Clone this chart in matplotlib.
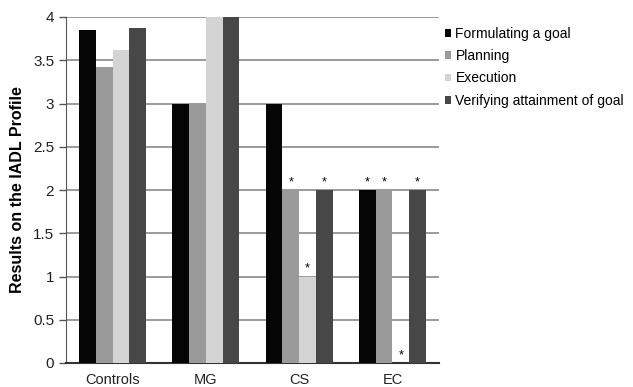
import numpy as np
import matplotlib
matplotlib.use("Agg")
import matplotlib.pyplot as plt

plt.rcParams['font.family'] = ['Liberation Sans', 'DejaVu Sans']

groups = ["Controls", "MG", "CS", "EC"]
series = ["Formulating a goal", "Planning", "Execution", "Verifying attainment of goal"]
formulating = [3.85, 3.0, 3.0, 2.0]
planning = [3.42, 3.0, 2.0, 2.0]
execution = [3.62, 4.0, 1.0, 0.0]
verifying = [3.87, 4.0, 2.0, 2.0]
# significant differences marked with *
stars = [[False, False, False, True],
         [False, False, True, True],
         [False, False, True, True],
         [False, False, True, True]]

colors = ["#050505", "#9a9a9a", "#d4d4d4", "#474747"]
values = [formulating, planning, execution, verifying]

fig = plt.figure(figsize=(6.33, 3.87), dpi=100)
ax = fig.add_axes([66 / 633, 1 - 363 / 387, 373 / 633, 346 / 387])

x = np.arange(len(groups))
w = 0.18
for i, (vals, c, name) in enumerate(zip(values, colors, series)):
    pos = x + (i - 1.5) * w
    ax.bar(pos, vals, width=w, color=c, label=name, zorder=3)
    for j, v in enumerate(vals):
        if stars[i][j]:
            ax.text(pos[j], v + 0.02, "*", ha="center", va="bottom", fontsize=9, zorder=4)

ax.set_xlim(-0.5, 3.5)
ax.set_ylim(0, 4)
ax.set_yticks(np.arange(0, 4.01, 0.5))
ax.set_yticklabels(["0", "0.5", "1", "1.5", "2", "2.5", "3", "3.5", "4"])
ax.set_xticks(x)
ax.set_xticklabels(groups)
ax.yaxis.grid(True, color="#8a8a8a", linewidth=1.2, zorder=0)
ax.tick_params(axis="x", length=0, labelsize=10.5, pad=7, labelcolor="#222222")
ax.tick_params(axis="y", length=5, width=1, color="#555555", labelsize=11, labelcolor="#222222")
for s in ["top", "right"]:
    ax.spines[s].set_visible(False)
ax.spines["left"].set_color("#555555")
ax.spines["bottom"].set_color("#333333")
ax.spines["bottom"].set_linewidth(1.5)
ax.set_ylabel("Results on the IADL Profile", fontweight="bold", fontsize=11.5, labelpad=6)

ax.legend(loc="upper left", bbox_to_anchor=(0.99, 1.0), frameon=False, fontsize=10,
          handlelength=0.45, handleheight=0.45, handletextpad=0.3, labelspacing=0.6,
          borderaxespad=0.3)

fig.savefig("out.png", dpi=100)
